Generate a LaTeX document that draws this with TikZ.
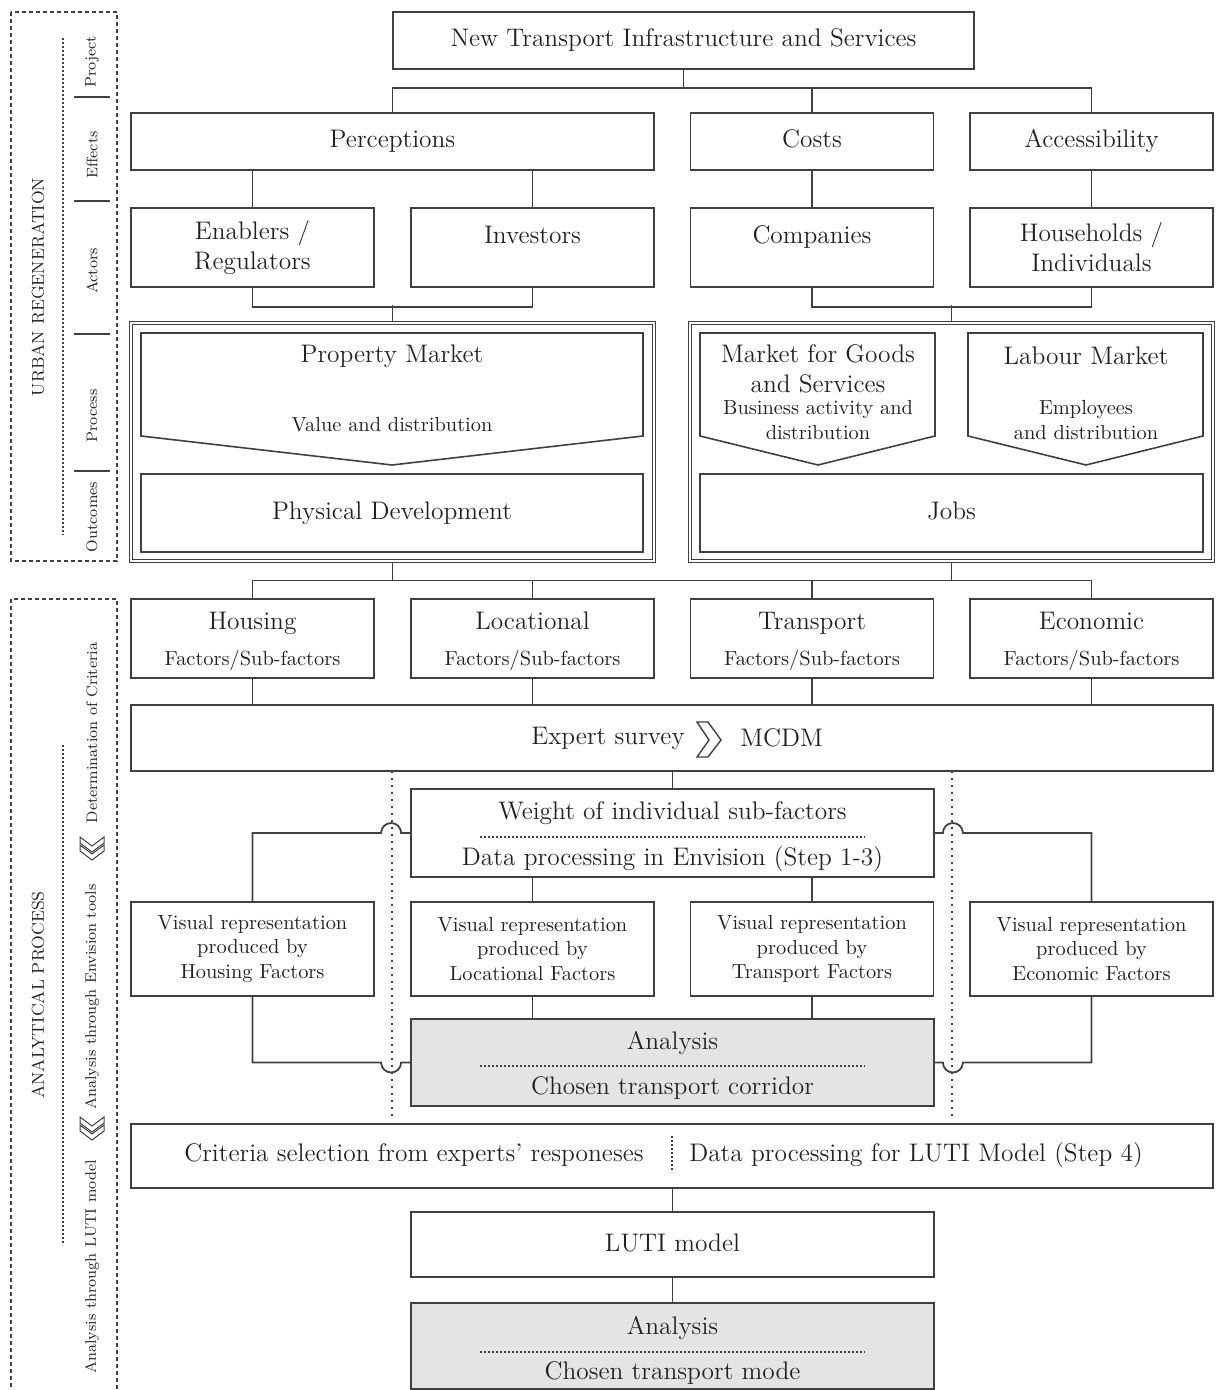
\documentclass[tikz,border=0pt]{standalone}
\usetikzlibrary{calc}
\definecolor{linegray}{HTML}{404040}
\definecolor{boxfill}{HTML}{E4E4E4}
\definecolor{textgray}{HTML}{222222}
\newcommand{\mainfs}{\fontsize{12.7}{15}\selectfont}
\newcommand{\subfs}{\fontsize{10.2}{12.4}\selectfont}
\newcommand{\sidefs}{\fontsize{7.6}{9}\selectfont}
\newcommand{\titlefs}{\fontsize{8.6}{10}\selectfont}
\tikzset{
	box/.style={
			draw=linegray,
			line width=0.9pt,
			fill=white,
			inner sep=0pt,
			text=textgray,
			align=center,
			font=\mainfs
		},
	smallbox/.style={
			box,
			minimum width=121.5pt
		},
	widebox/.style={
			box,
			minimum width=261.5pt
		},
	fullbox/.style={
			box,
			minimum width=541pt
		},
	graybox/.style={
			box,
			fill=boxfill
		},
	oneline/.style={
			text height=9pt,
			text depth=2.5pt
		},
	outerbox/.style={
			draw=linegray,
			line width=0.5pt,
			double=white,
			double distance=0.7pt,
			minimum width=261.5pt,
			minimum height=119pt,
			inner sep=0pt
		},
	pointerbox/.style={
			draw=linegray,
			line width=0.8pt,
			fill=white,
			line join=miter
		}
}
\tikzset{
	link/.style={draw=linegray, line width=0.9pt},
	guide/.style={draw=linegray, line width=1pt, dash pattern=on 1.2pt off 2.3pt},
	sepline/.style={draw=linegray, line width=0.6pt, dash pattern=on 0.8pt off 1.2pt},
	frame/.style={draw=linegray, line width=0.6pt, dash pattern=on 2pt off 1.5pt},
	chev/.style={draw=linegray, line width=0.5pt, fill=white},
	maintext/.style={text=textgray, font=\mainfs, inner sep=0pt, align=center},
	subtext/.style={text=textgray, font=\subfs, inner sep=0pt, align=center},
	sidetext/.style={text=textgray, font=\sidefs, inner sep=0pt, rotate=90},
	sidetitle/.style={text=textgray, font=\titlefs, inner sep=0pt, rotate=90}
}
\begin{document}
\begin{tikzpicture}[x=0.5pt, y=-0.5pt]
\useasboundingbox (0,0) rectangle (1216,1390);

% left column: urban regeneration
\draw[frame] (11,12) rectangle (117,561);
\node[sidetitle] (urban) at (38,287) {URBAN REGENERATION};
\draw[sepline] (63,38) -- (63,535);
\node[sidetext] (sproject) at (92,62) {Project};
\node[sidetext] (seffects) at (92,155) {Effects};
\node[sidetext] (sactors) at (92,271) {Actors};
\node[sidetext] (sprocess) at (92,416) {Process};
\node[sidetext] (soutcomes) at (92,517) {Outcomes};
\draw[link] (74,97) -- (110,97);
\draw[link] (74,201) -- (110,201);
\draw[link] (74,334) -- (110,334);
\draw[link] (74,471) -- (110,471);

% left column: analytical process
\draw[frame] (11,599) rectangle (117,1396);
\node[sidetitle] (analytic) at (38,995) {ANALYTICAL PROCESS};
\draw[sepline] (63,745) -- (63,1245);
\node[sidetext] (scriteria) at (92,733) {Determination of Criteria};
\node[sidetext] (senvision) at (92,997) {Analysis through Envision tools};
\node[sidetext] (sluti) at (92,1267) {Analysis through LUTI model};
\draw[chev] (80,837) -- (92,846) -- (104,837) -- (104,843) -- (92,852) -- (80,843) -- cycle;
\draw[chev] (80,845) -- (92,854) -- (104,845) -- (104,851) -- (92,860) -- (80,851) -- cycle;
\draw[chev] (80,1117) -- (92,1126) -- (104,1117) -- (104,1123) -- (92,1132) -- (80,1123) -- cycle;
\draw[chev] (80,1125) -- (92,1134) -- (104,1125) -- (104,1131) -- (92,1140) -- (80,1131) -- cycle;

% project and effects
\node[box, oneline, minimum width=290.5pt, minimum height=28.5pt] (project) at (683.5,40.5) {New Transport Infrastructure and Services};
\node[widebox, oneline, minimum height=28.5pt] (perc) at (392.5,141.5) {Perceptions};
\node[smallbox, oneline, minimum height=28.5pt] (costs) at (812,141.5) {Costs};
\node[smallbox, oneline, minimum height=28.5pt] (access) at (1091.5,141.5) {Accessibility};

% actors
\node[smallbox, minimum height=39.5pt] (enab) at (252.5,247.5) {Enablers /\\Regulators};
\node[smallbox, minimum height=39.5pt] (inv) at (532.5,247.5) {};
\node[maintext, oneline] (invt) at (532.5,237) {Investors};
\node[smallbox, minimum height=39.5pt] (comp) at (812,247.5) {};
\node[maintext, oneline] (compt) at (812,237) {Companies};
\node[smallbox, minimum height=39.5pt] (house) at (1091.5,247.5) {Households /\\Individuals};

% process and outcomes
\node[outerbox] (pmouter) at (392.5,442) {};
\node[outerbox] (lmouter) at (951.5,442) {};
\draw[pointerbox] (141,333) -- (643,333) -- (643,436) -- (392,465) -- (141,436) -- cycle;
\node[maintext] (pmt) at (392,356) {Property Market};
\node[subtext] (pmv) at (392,425) {Value and distribution};
\draw[pointerbox] (700,333) -- (935,333) -- (935,436) -- (818,465) -- (700,436) -- cycle;
\node[maintext] (mgt) at (818,369) {Market for Goods\\and Services};
\node[subtext] (mgv) at (818,420) {Business activity and\\distribution};
\draw[pointerbox] (968,333) -- (1203,333) -- (1203,436) -- (1086,465) -- (968,436) -- cycle;
\node[maintext] (lmt) at (1086,356) {Labour Market};
\node[subtext] (lmv) at (1086,420) {Employees\\and distribution};
\node[box, oneline, minimum width=251pt, minimum height=39pt] (phys) at (392,513) {Physical Development};
\node[box, oneline, minimum width=251.5pt, minimum height=39pt] (jobs) at (951.5,513) {Jobs};

% factors
\node[smallbox, minimum height=39.5pt] (hous) at (252.5,638.5) {};
\node[maintext, oneline] (houst) at (252.5,623) {Housing};
\node[subtext] (housf) at (252.5,660) {Factors/Sub-factors};
\node[smallbox, minimum height=39.5pt] (loc) at (532.5,638.5) {};
\node[maintext, oneline] (loct) at (532.5,623) {Locational};
\node[subtext] (locf) at (532.5,660) {Factors/Sub-factors};
\node[smallbox, minimum height=39.5pt] (trans) at (812,638.5) {};
\node[maintext, oneline] (transt) at (812,623) {Transport};
\node[subtext] (transf) at (812,660) {Factors/Sub-factors};
\node[smallbox, minimum height=39.5pt] (econ) at (1091.5,638.5) {};
\node[maintext, oneline] (econt) at (1091.5,623) {Economic};
\node[subtext] (econf) at (1091.5,660) {Factors/Sub-factors};

% expert survey
\node[fullbox, minimum height=33pt] (expert) at (672,738) {};
\node[maintext, oneline, anchor=east] (expt) at (685,738) {Expert survey};
\draw[chev, line width=0.7pt] (697,722) -- (708,722) -- (721,740) -- (708,757) -- (697,757) -- (709,740) -- cycle;
\node[maintext, oneline, anchor=west] (mcdm) at (740,740) {MCDM};

% envision
\node[box, minimum width=261.5pt, minimum height=44pt] (weight) at (672.5,833) {};
\node[maintext, oneline] (wtop) at (672.5,813) {Weight of individual sub-factors};
\draw[sepline] (480,837) -- (865,837);
\node[maintext, oneline] (wbot) at (672.5,859) {Data processing in Envision (Step 1-3)};
\node[smallbox, minimum height=47pt, font=\subfs] (vhous) at (252.5,949) {Visual representation\\produced by\\Housing Factors};
\node[smallbox, minimum height=47pt, font=\subfs] (vloc) at (532.5,949) {Visual representation\\produced by\\Locational Factors};
\node[smallbox, minimum height=47pt, font=\subfs] (vtrans) at (812,949) {Visual representation\\produced by\\Transport Factors};
\node[smallbox, minimum height=47pt, font=\subfs] (vecon) at (1091.5,949) {Visual representation\\produced by\\Economic Factors};
\node[graybox, minimum width=261.5pt, minimum height=43.5pt] (corr) at (672.5,1062.5) {};
\node[maintext, oneline] (corrt) at (672.5,1043) {Analysis};
\draw[sepline] (480,1066) -- (865,1066);
\node[maintext, oneline] (corrb) at (672.5,1088) {Chosen transport corridor};

% luti
\node[fullbox, minimum height=32pt] (crit) at (672,1156) {};
\node[maintext, oneline] (critl) at (414,1155) {Criteria selection from experts' responeses};
\draw[sepline] (672,1136) -- (672,1172);
\node[maintext, oneline] (critr) at (916,1155) {Data processing for LUTI Model (Step 4)};
\node[box, oneline, minimum width=261.5pt, minimum height=32.5pt] (luti) at (672.5,1244.5) {LUTI model};
\node[graybox, minimum width=261.5pt, minimum height=43pt] (mode) at (672.5,1346) {};
\node[maintext, oneline] (modet) at (672.5,1328) {Analysis};
\draw[sepline] (480,1352) -- (865,1352);
\node[maintext, oneline] (modeb) at (672.5,1373) {Chosen transport mode};

% connectors
\draw[link] (project.south) -- ++(0,18) coordinate (jtop);
\draw[link] (perc.north) |- (jtop) -| (access.north);
\draw[link] (costs.north) -- (costs.north |- jtop);
\draw[link] (enab.north) -- (enab.north |- perc.south);
\draw[link] (inv.north) -- (inv.north |- perc.south);
\draw[link] (comp.north) -- (costs.south);
\draw[link] (house.north) -- (access.south);
\draw[link] (enab.south) -- ++(0,19) -| (inv.south);
\draw[link] (pmouter.north) -- ++(0,-17);
\draw[link] (comp.south) -- ++(0,19) -| (house.south);
\draw[link] (lmouter.north) -- ++(0,-17);
\draw[link] (pmouter.south) -- ++(0,19) coordinate (jmid);
\draw[link] (lmouter.south) -- ++(0,19);
\draw[link] (hous.north) |- (jmid) -| (econ.north);
\draw[link] (loc.north) -- (loc.north |- jmid);
\draw[link] (trans.north) -- (trans.north |- jmid);
\draw[link] (hous.south) -- (hous.south |- expert.north);
\draw[link] (loc.south) -- (loc.south |- expert.north);
\draw[link] (trans.south) -- (trans.south |- expert.north);
\draw[link] (econ.south) -- (econ.south |- expert.north);
\draw[link] (weight.north) -- (weight.north |- expert.south);

% dotted guides with hops
\draw[guide] (392,771) -- (392,1118);
\draw[guide] (952,771) -- (952,1118);
\draw[link] (weight.west) -- ++(-9,0) arc[start angle=0, end angle=180, radius=5pt] -| (vhous.north);
\draw[link] (weight.east) -- ++(8,0) arc[start angle=180, end angle=0, radius=5pt] -| (vecon.north);
\draw[link] (vloc.north) -- (vloc.north |- weight.south);
\draw[link] (vtrans.north) -- (vtrans.north |- weight.south);
\draw[link] (vloc.south) -- (vloc.south |- corr.north);
\draw[link] (vtrans.south) -- (vtrans.south |- corr.north);
\draw[link] (vhous.south) |- ([xshift=-14.5pt]corr.west) arc[start angle=180, end angle=360, radius=5pt] -- (corr.west);
\draw[link] (vecon.south) |- ([xshift=14pt]corr.east) arc[start angle=0, end angle=-180, radius=5pt] -- (corr.east);
\draw[link] (luti.north) -- (luti.north |- crit.south);
\draw[link] (mode.north) -- (luti.south);

\end{tikzpicture}
\end{document}
